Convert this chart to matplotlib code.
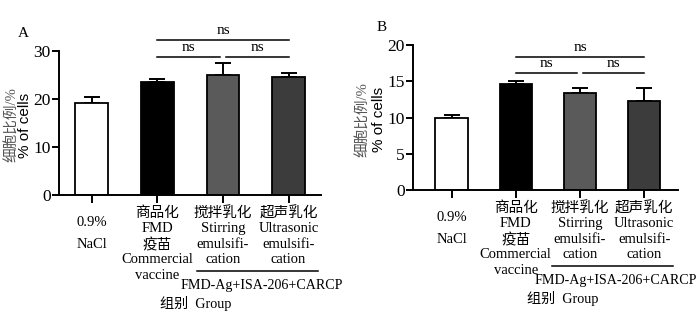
import matplotlib
matplotlib.use('Agg')
import matplotlib.pyplot as plt

plt.rcParams['font.family'] = ['Liberation Serif', 'Noto Sans CJK SC']

# data
groups = ['0.9% NaCl', 'Commercial vaccine', 'Stirring emulsification', 'Ultrasonic emulsification']
vals_a = [19.2, 23.6, 25.0, 24.6]
err_a = [1.3, 0.6, 2.6, 0.9]
vals_b = [9.95, 14.65, 13.4, 12.3]
err_b = [0.45, 0.4, 0.65, 1.75]
colors = ['white', 'black', '#5a5a5a', '#3c3c3c']

# multi-line category labels: (text, pixel offset below axis)
cat_lines = [
    [('0.9%', 28), ('NaCl', 50)],
    [('商品化', 18), ('FMD', 34), ('疫苗', 50), ('Commercial', 65), ('vaccine', 81)],
    [('搅拌乳化', 18), ('Stirring', 34), ('emulsifi-', 50), ('cation', 65)],
    [('超声乳化', 18), ('Ultrasonic', 34), ('emulsifi-', 50), ('cation', 65)],
]

fig = plt.figure(figsize=(7, 3.13), dpi=100)
axA = fig.add_axes([0.0843, 0.377, 0.459 - 0.0843, 0.837 - 0.377])
axB = fig.add_axes([0.59, 0.393, 0.969 - 0.59, 0.856 - 0.393])


def draw(ax, vals, errs, ymax, ystep, xlim, sig_top, sig_low, letter, lab_off,
         brk, fmd_x, grp_x):
    x = range(len(vals))
    ax.bar(x, vals, width=0.5, color=colors, edgecolor='black', linewidth=1.3, zorder=2)
    ax.errorbar(x, vals, yerr=[[0] * len(errs), errs], fmt='none', ecolor='black',
                elinewidth=1.4, capsize=6, capthick=1.4, zorder=1)
    ax.set_ylim(0, ymax)
    ax.set_xlim(*xlim)
    ax.set_yticks(range(0, ymax + 1, ystep))
    ax.set_xticks(list(x))
    ax.set_xticklabels([])
    ax.spines['top'].set_visible(False)
    ax.spines['right'].set_visible(False)
    for s in ['left', 'bottom']:
        ax.spines[s].set_linewidth(1.4)
    ax.tick_params(axis='y', labelsize=12.5, width=1.4, length=5, pad=1)
    ax.tick_params(axis='x', width=1.4, length=6)

    # significance lines
    for x0, x1, y in [(1, 3, sig_top), (1, 1.95, sig_low), (2.05, 3, sig_low)]:
        ax.plot([x0, x1], [y, y], color='black', lw=1.1, clip_on=False)
        ax.text((x0 + x1) / 2, y + ymax * 0.02, 'ns', ha='center', va='bottom',
                fontsize=11, clip_on=False)

    tr = ax.get_xaxis_transform()
    for i, lines in enumerate(cat_lines):
        for txt, off in lines:
            ax.annotate(txt, xy=(i, 0), xycoords=tr, xytext=(0, -off),
                        textcoords='offset pixels', ha='center', va='center',
                        fontsize=10.5)
    ax.plot(brk, [0, 0], color='black', lw=1.1, clip_on=False,
            transform=tr + matplotlib.transforms.ScaledTranslation(0, -76 / 100, fig.dpi_scale_trans))
    ax.annotate('FMD-Ag+ISA-206+CARCP', xy=(fmd_x, 0), xycoords=tr, xytext=(0, -91),
                textcoords='offset pixels', ha='center', va='center', fontsize=10.1)
    ax.annotate('组别  Group', xy=(grp_x, 0), xycoords=tr, xytext=(0, -109),
                textcoords='offset pixels', ha='center', va='center', fontsize=10.2)

    # y label
    ax.annotate('细胞比例/%', xy=(0, 0.5), xycoords='axes fraction', xytext=(lab_off[0], -2),
                textcoords='offset pixels', rotation=90, ha='center', va='center',
                fontsize=10.5, color='#555555')
    ax.annotate('% of cells', xy=(0, 0.5), xycoords='axes fraction', xytext=(lab_off[1], -2),
                textcoords='offset pixels', rotation=90, ha='center', va='center',
                fontsize=11, family='Liberation Sans')
    ax.annotate(letter, xy=(0, 1), xycoords='axes fraction', xytext=(lab_off[2], 18),
                textcoords='offset pixels', ha='center', va='center', fontsize=11)


draw(axA, vals_a, err_a, 30, 10, (-0.5, 3.5), 32.3, 28.75, 'A', (-47, -34, -36),
     (1.61, 3.45), 2.59, 1.58)
draw(axB, vals_b, err_b, 20, 5, (-0.6, 3.53), 18.4, 16.2, 'B', (-50, -34, -31),
     (1.57, 3.45), 2.55, 1.73)

fig.savefig('out.png', dpi=100)
